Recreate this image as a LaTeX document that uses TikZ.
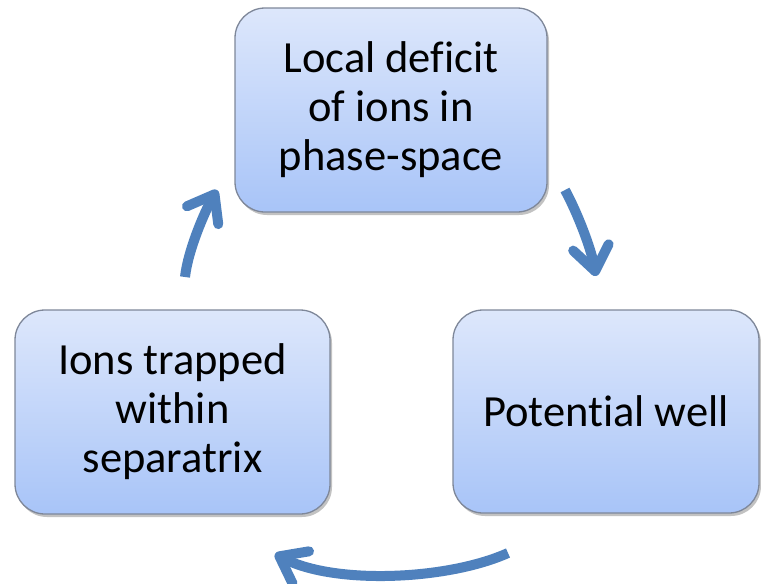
\documentclass[tikz,border=0pt]{standalone}
\usepackage{fontspec}
\setmainfont{Carlito}[Ligatures={NoCommon}]
\usetikzlibrary{arrows.meta,shadows}
\definecolor{boxtop}{HTML}{DDE7FB}
\definecolor{boxbot}{HTML}{A8C4F8}
\definecolor{boxline}{HTML}{7E8799}
\definecolor{arrowc}{HTML}{4F81BD}
\tikzset{
  cyclebox/.style={draw=boxline, line width=1.3pt, rounded corners=30pt,
    top color=boxtop, bottom color=boxbot, align=center,
    font=\fontsize{44.5}{49}\selectfont, inner sep=0pt,
    drop shadow={shadow xshift=2pt, shadow yshift=-3pt, opacity=0.4, fill=black!60}},
  cyclearrow/.style={draw=arrowc, line width=10pt,
    -{Straight Barb[length=24pt, width=36pt, round]}}
}
\begin{document}
\begin{tikzpicture}[x=1pt,y=-1pt]
\useasboundingbox (0,0) rectangle (761,584);
\node[cyclebox, minimum width=312pt, minimum height=204pt] (top) at (391,110) {Local deficit\\of ions in\\phase-space};
\node[cyclebox, minimum width=306pt, minimum height=203pt] (right) at (606,411.5) {Potential well};
\node[cyclebox, minimum width=315pt, minimum height=204pt] (left) at (172.5,412) {Ions trapped\\within\\separatrix};
\coordinate (a1s) at (565,190);
\coordinate (a1e) at (596,276);
\coordinate (a2s) at (508,553);
\coordinate (a2e) at (275,554);
\coordinate (a3s) at (185,277);
\coordinate (a3e) at (217,190);
\draw[cyclearrow] (a1s) .. controls (577,212) and (591,248) .. (a1e);
\draw[cyclearrow] (a2s) .. controls (448,580) and (335,585) .. (a2e);
\draw[cyclearrow] (a3s) .. controls (188,250) and (205,211) .. (a3e);
\end{tikzpicture}
\end{document}
